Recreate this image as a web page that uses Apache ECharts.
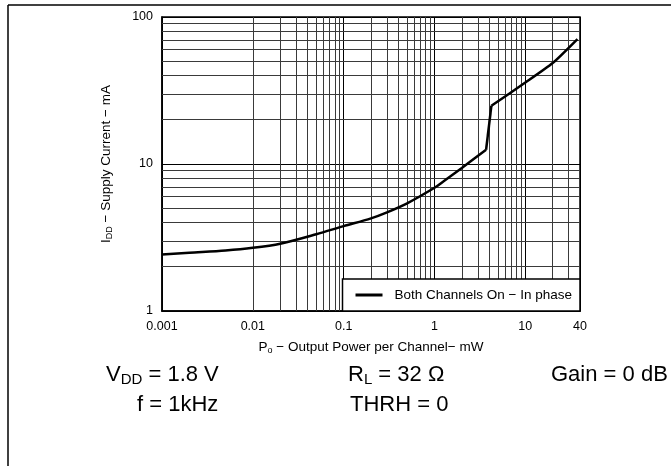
<!DOCTYPE html>
<html>
<head>
<meta charset="utf-8">
<script src="https://cdn.jsdelivr.net/npm/echarts@6/dist/echarts.min.js"></script>
<style>
  html, body { margin: 0; padding: 0; background: #fff; }
  #chart { width: 671px; height: 466px; }
</style>
</head>
<body>
<div id="chart"></div>
<script>
// output power per channel (mW) and supply current (mA)
const outputPower = [0.001, 0.002, 0.005, 0.01, 0.02, 0.05, 0.1, 0.2, 0.3, 0.5, 1, 1.25, 2, 3.7, 4.23, 10, 20, 37.5]
const supplyCurrent = [2.42, 2.49, 2.58, 2.69, 2.87, 3.33, 3.78, 4.27, 4.69, 5.4, 6.89, 7.6, 9.4, 12.5, 24.9, 35.8, 48.6, 70.8]
const seriesName = 'Both Channels On \u2212 In phase'
// the curve jumps between these two points (index into the arrays above)
const jumpStart = 13
const jumpEnd = 14

const xRange = [0.001, 40]
const yRange = [1, 100]
const xDecades = [0.001, 0.01, 0.1, 1, 10]
const yDecades = [1, 10]

const font = 'Liberation Sans, Arial, Helvetica, sans-serif'

// minor log grid: 2..9 times each decade, kept inside the axis range
function minorLines(decades, max) {
  const out = []
  decades.forEach((d) => {
    for (let m = 2; m <= 9; m++) {
      const v = +(m * d).toPrecision(3)
      if (v < max) out.push(v)
    }
  })
  return out
}

const gridX = minorLines(xDecades, xRange[1])
const gridY = minorLines(yDecades, yRange[1])

const points = outputPower.map((x, i) => [x, supplyCurrent[i]])

const chart = echarts.init(document.getElementById('chart'), null, { renderer: 'canvas' })

const subRich = {
  sub: { fontSize: 9, fontFamily: font, color: '#000', verticalAlign: 'bottom', padding: [6, 0, 0, 0] },
}
const bigSub = {
  sub: { fontSize: 15, fontFamily: font, color: '#000', padding: [10, 0, 0, 0] },
}

function curvePart(data, smooth) {
  return {
    name: seriesName,
    type: 'line',
    z: 3,
    symbol: 'none',
    smooth: smooth,
    lineStyle: { color: '#000', width: 2.5 },
    itemStyle: { color: '#000' },
    data: data,
  }
}

chart.setOption({
  animation: false,
  backgroundColor: '#fff',
  grid: {
    left: 162, right: 91, top: 17, bottom: 155,
    show: true, borderColor: '#000', borderWidth: 1.5, backgroundColor: 'transparent',
  },
  legend: {
    data: [{ name: seriesName, icon: 'rect' }],
    right: 91, bottom: 155,
    orient: 'horizontal',
    backgroundColor: '#fff',
    borderColor: '#000',
    borderWidth: 1.5,
    borderRadius: 0,
    padding: [9, 8, 9, 13],
    itemWidth: 27,
    itemHeight: 3,
    formatter: (n) => '{t|' + n + '}',
    textStyle: {
      color: '#000', fontSize: 13.5, fontFamily: font,
      rich: { t: { fontSize: 13.5, fontFamily: font, color: '#000', padding: [0, 0, 0, 7] } },
    },
  },
  xAxis: {
    type: 'log',
    logBase: 10,
    min: xRange[0],
    max: xRange[1],
    name: 'P{sub|o} \u2212 Output Power per Channel\u2212 mW',
    nameLocation: 'middle',
    nameGap: 29,
    nameTextStyle: { color: '#000', fontSize: 13.5, fontFamily: font, rich: subRich },
    axisLine: { show: true, lineStyle: { color: '#000', width: 1.5 } },
    axisTick: { show: false },
    axisLabel: {
      color: '#000', fontSize: 12.5, fontFamily: font, margin: 9,
      showMaxLabel: true,
      formatter: (v) => String(+(+v).toPrecision(3)),
    },
    splitLine: { show: true, lineStyle: { color: '#000', width: 1 } },
  },
  yAxis: {
    type: 'log',
    logBase: 10,
    min: yRange[0],
    max: yRange[1],
    name: 'I{sub|DD} \u2212 Supply Current \u2212 mA',
    nameLocation: 'middle',
    nameGap: 48,
    nameTextStyle: { color: '#000', fontSize: 13.5, fontFamily: font, rich: subRich },
    axisLine: { show: true, lineStyle: { color: '#000', width: 1.5 } },
    axisTick: { show: false },
    axisLabel: {
      color: '#000', fontSize: 12.5, fontFamily: font, margin: 9,
      formatter: (v) => String(+(+v).toPrecision(3)),
    },
    splitLine: { show: true, lineStyle: { color: '#000', width: 1 } },
  },
  series: [
    {
      // carries the minor log grid lines only
      name: 'grid',
      type: 'line',
      data: [],
      z: 1,
      silent: true,
      markLine: {
        z: 1,
        silent: true,
        symbol: ['none', 'none'],
        label: { show: false },
        lineStyle: { color: '#3a3a3a', width: 1, type: 'solid' },
        emphasis: { disabled: true },
        data: gridX.map((v) => ({ xAxis: v })).concat(gridY.map((v) => ({ yAxis: v }))),
      },
    },
    curvePart(points.slice(0, jumpStart + 1), 0.3),
    curvePart(points.slice(jumpStart, jumpEnd + 1), false),
    curvePart(points.slice(jumpEnd), 0.2),
  ],
  graphic: [
    { type: 'line', shape: { x1: 8, y1: 5, x2: 671, y2: 5 }, style: { stroke: '#000', lineWidth: 1.5 } },
    { type: 'line', shape: { x1: 8, y1: 5, x2: 8, y2: 466 }, style: { stroke: '#000', lineWidth: 1.5 } },
    {
      type: 'text', left: 106, top: 364,
      style: { text: 'V{sub|DD} = 1.8 V', font: '22px ' + font, fill: '#000', rich: bigSub },
    },
    {
      type: 'text', left: 137, top: 394,
      style: { text: 'f = 1kHz', font: '22px ' + font, fill: '#000' },
    },
    {
      type: 'text', left: 348, top: 364,
      style: { text: 'R{sub|L} = 32 \u03a9', font: '22px ' + font, fill: '#000', rich: bigSub },
    },
    {
      type: 'text', left: 350, top: 394,
      style: { text: 'THRH = 0', font: '22px ' + font, fill: '#000' },
    },
    {
      type: 'text', left: 551, top: 364,
      style: { text: 'Gain = 0 dB', font: '22px ' + font, fill: '#000' },
    },
  ],
})

window.addEventListener('resize', () => chart.resize())
</script>
</body>
</html>
